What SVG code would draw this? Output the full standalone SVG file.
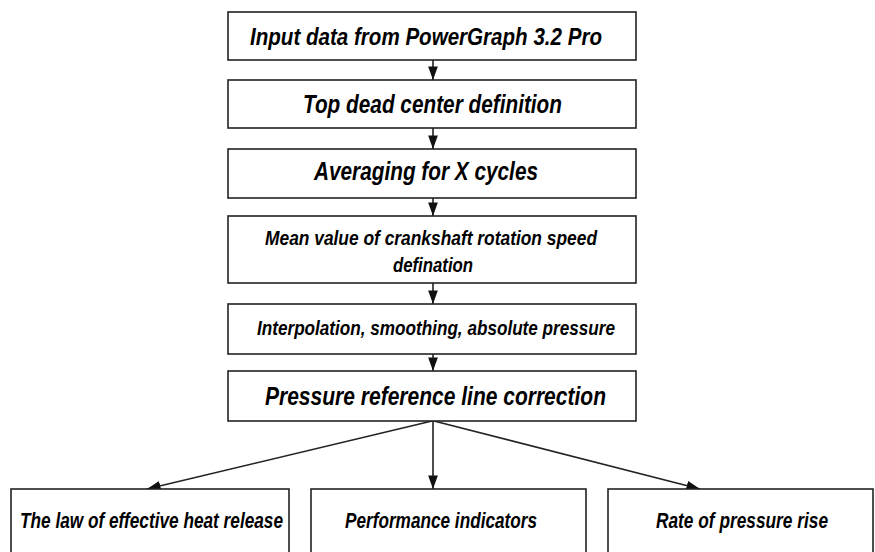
<svg xmlns="http://www.w3.org/2000/svg" width="875" height="552" viewBox="0 0 875 552">
<defs>
<style>
.box{fill:#fff;stroke:#222;stroke-width:1.6}
.t{font-family:"Liberation Sans",Arial,sans-serif;font-weight:bold;font-style:italic;fill:#000}
.c{stroke:#222;stroke-width:1.6;fill:none;marker-end:url(#ah)}
</style>
<marker id="ah" viewBox="0 0 14 10" refX="14" refY="5" markerWidth="8.5" markerHeight="6.2" orient="auto" markerUnits="strokeWidth">
<path d="M0,0 L14,5 L0,10 z" fill="#111"/>
</marker>
</defs>
<rect width="875" height="552" fill="#fff"/>
<g id="connectors">
<line class="c" x1="433" y1="60" x2="433" y2="80"/>
<line class="c" x1="433" y1="128" x2="433" y2="149"/>
<line class="c" x1="433" y1="198" x2="433" y2="216"/>
<line class="c" x1="433" y1="283" x2="433" y2="304"/>
<line class="c" x1="433" y1="354" x2="433" y2="371"/>
<line class="c" x1="433" y1="421" x2="433" y2="489"/>
<line class="c" x1="432" y1="421" x2="147" y2="489"/>
<line class="c" x1="434" y1="421" x2="700" y2="489"/>
</g>
<g id="n1"><rect class="box" x="228" y="12" width="408" height="48"/><text class="t" x="250" y="45" font-size="24.5" textLength="352" lengthAdjust="spacingAndGlyphs">Input data from PowerGraph 3.2 Pro</text></g>
<g id="n2"><rect class="box" x="228" y="80" width="408" height="48"/><text class="t" x="303" y="113" font-size="25.5" textLength="259" lengthAdjust="spacingAndGlyphs">Top dead center definition</text></g>
<g id="n3"><rect class="box" x="228" y="149" width="408" height="49"/><text class="t" x="314" y="180" font-size="25.5" textLength="224" lengthAdjust="spacingAndGlyphs">Averaging for X cycles</text></g>
<g id="n4"><rect class="box" x="228" y="216" width="408" height="67"/><text class="t" x="265" y="245" font-size="21" textLength="332" lengthAdjust="spacingAndGlyphs">Mean value of crankshaft rotation speed</text><text class="t" x="393" y="272" font-size="21" textLength="80" lengthAdjust="spacingAndGlyphs">defination</text></g>
<g id="n5"><rect class="box" x="228" y="304" width="408" height="50"/><text class="t" x="257" y="335" font-size="21" textLength="358" lengthAdjust="spacingAndGlyphs">Interpolation, smoothing, absolute pressure</text></g>
<g id="n6"><rect class="box" x="228" y="371" width="408" height="50"/><text class="t" x="265" y="405" font-size="26.5" textLength="341" lengthAdjust="spacingAndGlyphs">Pressure reference line correction</text></g>
<g id="n7"><rect class="box" x="11" y="489" width="278" height="70"/><text class="t" x="20" y="528" font-size="22.5" textLength="263" lengthAdjust="spacingAndGlyphs">The law of effective heat release</text></g>
<g id="n8"><rect class="box" x="311" y="489" width="275" height="70"/><text class="t" x="345" y="528" font-size="22.5" textLength="192" lengthAdjust="spacingAndGlyphs">Performance indicators</text></g>
<g id="n9"><rect class="box" x="608" y="489" width="265" height="70"/><text class="t" x="656" y="528" font-size="22.5" textLength="172" lengthAdjust="spacingAndGlyphs">Rate of pressure rise</text></g>
</svg>
